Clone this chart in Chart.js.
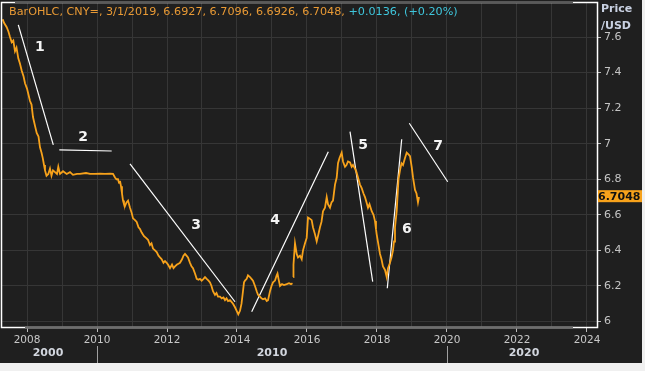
<!DOCTYPE html>
<html>
<head>
<meta charset="utf-8">
<script src="https://cdn.jsdelivr.net/npm/chart.js@4.4.1/dist/chart.umd.min.js"></script>
<style>
  html, body { margin: 0; padding: 0; background: #1f1f1f; }
  #wrap { width: 645px; height: 371px; }
</style>
</head>
<body>
<div id="wrap"><canvas id="chart" width="645" height="371"></canvas></div>
<script>
const priceYears = [
    2007.306, 2007.343, 2007.42, 2007.471, 2007.514, 2007.563, 2007.609, 2007.657, 2007.7, 2007.751,
    2007.8, 2007.849, 2007.9, 2007.943, 2008.0, 2008.086, 2008.129, 2008.171, 2008.229, 2008.277,
    2008.329, 2008.371, 2008.414, 2008.449, 2008.486, 2008.514, 2008.557, 2008.609, 2008.657, 2008.7,
    2008.743, 2008.8, 2008.857, 2008.894, 2008.929, 2008.943, 2009.029, 2009.134, 2009.229, 2009.314,
    2009.429, 2009.514, 2009.686, 2009.8, 2009.943, 2010.086, 2010.229, 2010.371, 2010.457, 2010.514,
    2010.557, 2010.6, 2010.629, 2010.657, 2010.686, 2010.714, 2010.743, 2010.771, 2010.8, 2010.843,
    2010.886, 2010.943, 2010.991, 2011.029, 2011.086, 2011.134, 2011.186, 2011.229, 2011.277, 2011.343,
    2011.4, 2011.457, 2011.514, 2011.557, 2011.6, 2011.657, 2011.706, 2011.757, 2011.8, 2011.849,
    2011.9, 2011.943, 2011.991, 2012.029, 2012.086, 2012.143, 2012.186, 2012.229, 2012.286, 2012.329,
    2012.371, 2012.429, 2012.471, 2012.514, 2012.557, 2012.6, 2012.657, 2012.7, 2012.743, 2012.8,
    2012.849, 2012.9, 2012.943, 2012.991, 2013.043, 2013.086, 2013.134, 2013.186, 2013.229, 2013.271,
    2013.314, 2013.371, 2013.414, 2013.457, 2013.514, 2013.563, 2013.614, 2013.657, 2013.7, 2013.743,
    2013.8, 2013.843, 2013.886, 2013.943, 2013.991, 2014.037, 2014.086, 2014.129, 2014.171, 2014.2,
    2014.229, 2014.277, 2014.314, 2014.371, 2014.414, 2014.457, 2014.514, 2014.563, 2014.6, 2014.657,
    2014.7, 2014.743, 2014.8, 2014.849, 2014.886, 2014.943, 2014.986, 2015.029, 2015.086, 2015.134,
    2015.157, 2015.186, 2015.229, 2015.286, 2015.343, 2015.42, 2015.486, 2015.543, 2015.586, 2015.596,
    2015.606, 2015.614, 2015.657, 2015.706, 2015.743, 2015.8, 2015.849, 2015.886, 2015.943, 2015.991,
    2016.029, 2016.071, 2016.134, 2016.171, 2016.229, 2016.277, 2016.314, 2016.371, 2016.414, 2016.457,
    2016.514, 2016.563, 2016.6, 2016.657, 2016.7, 2016.743, 2016.8, 2016.849, 2016.886, 2016.929,
    2016.991, 2017.029, 2017.086, 2017.129, 2017.171, 2017.229, 2017.277, 2017.314, 2017.371, 2017.414,
    2017.457, 2017.514, 2017.563, 2017.614, 2017.657, 2017.7, 2017.743, 2017.786, 2017.849, 2017.9,
    2017.943, 2017.971, 2017.991, 2018.043, 2018.086, 2018.129, 2018.171, 2018.229, 2018.277, 2018.314,
    2018.371, 2018.414, 2018.457, 2018.486, 2018.514, 2018.563, 2018.614, 2018.657, 2018.7, 2018.743,
    2018.8, 2018.849, 2018.9, 2018.943, 2018.991, 2019.029, 2019.086, 2019.129, 2019.171, 2019.2
];
const priceValues = [
    7.70, 7.68, 7.655, 7.63, 7.60, 7.57, 7.58, 7.52, 7.54, 7.48,
    7.45, 7.41, 7.38, 7.34, 7.31, 7.24, 7.22, 7.15, 7.10, 7.06,
    7.04, 6.98, 6.95, 6.92, 6.88, 6.85, 6.82, 6.83, 6.86, 6.82,
    6.85, 6.84, 6.83, 6.87, 6.84, 6.83, 6.845, 6.83, 6.84, 6.825,
    6.83, 6.83, 6.835, 6.83, 6.83, 6.832, 6.83, 6.832, 6.83, 6.81,
    6.80, 6.80, 6.78, 6.79, 6.76, 6.72, 6.68, 6.66, 6.65, 6.67,
    6.68, 6.64, 6.61, 6.58, 6.57, 6.56, 6.53, 6.52, 6.50, 6.48,
    6.47, 6.46, 6.43, 6.44, 6.41, 6.40, 6.39, 6.37, 6.36, 6.35,
    6.33, 6.34, 6.33, 6.32, 6.30, 6.32, 6.30, 6.31, 6.32, 6.325,
    6.33, 6.35, 6.37, 6.38, 6.37, 6.36, 6.33, 6.31, 6.30, 6.27,
    6.24, 6.235, 6.24, 6.23, 6.24, 6.25, 6.24, 6.23, 6.22, 6.20,
    6.17, 6.15, 6.16, 6.14, 6.14, 6.13, 6.135, 6.12, 6.13, 6.115,
    6.12, 6.11, 6.10, 6.08, 6.06, 6.04, 6.06, 6.10, 6.17, 6.22,
    6.23, 6.24, 6.26, 6.25, 6.24, 6.23, 6.20, 6.17, 6.15, 6.14,
    6.13, 6.125, 6.13, 6.115, 6.12, 6.17, 6.20, 6.22, 6.23, 6.26,
    6.27, 6.24, 6.20, 6.21, 6.205, 6.21, 6.215, 6.21, 6.215, null,
    6.25, 6.32, 6.44, 6.38, 6.36, 6.37, 6.35, 6.40, 6.44, 6.47,
    6.585, 6.58, 6.57, 6.53, 6.49, 6.45, 6.48, 6.53, 6.56, 6.62,
    6.64, 6.70, 6.66, 6.64, 6.67, 6.68, 6.77, 6.81, 6.89, 6.92,
    6.95, 6.90, 6.87, 6.88, 6.90, 6.895, 6.87, 6.88, 6.86, 6.84,
    6.81, 6.77, 6.75, 6.72, 6.70, 6.67, 6.64, 6.66, 6.62, 6.60,
    6.565, 6.52, 6.49, 6.43, 6.38, 6.35, 6.31, 6.29, 6.25, 6.30,
    6.33, 6.36, 6.40, 6.45, 6.53, 6.62, 6.80, 6.85, 6.89, 6.88,
    6.92, 6.95, 6.94, 6.93, 6.87, 6.81, 6.74, 6.72, 6.67, 6.70
];

// hand drawn wave lines and their numbers
const trendStartYears = [2007.751, 2008.923, 2010.943, 2014.42, 2017.229, 2018.294, 2018.923];
const trendStartValues = [7.668, 6.965, 6.886, 6.055, 7.068, 6.187, 7.115];
const trendEndYears = [2008.751, 2010.42, 2013.943, 2016.609, 2017.877, 2018.706, 2020.02];
const trendEndValues = [6.993, 6.959, 6.111, 6.955, 6.224, 7.025, 6.786];
const waveLabels = ['1', '2', '3', '4', '5', '6', '7'];
const waveLabelYears = [2008.371, 2009.6, 2012.829, 2015.086, 2017.6, 2018.857, 2019.743];
const waveLabelValues = [7.544, 7.038, 6.543, 6.571, 6.993, 6.52, 6.987];

const yearTicks = [2008, 2009, 2010, 2011, 2012, 2013, 2014, 2015, 2016, 2017, 2018, 2019, 2020, 2021, 2022, 2023, 2024];
const priceTicks = [6, 6.2, 6.4, 6.6, 6.8, 7, 7.2, 7.4, 7.6];
const decadeLabels = ['2000', '2010', '2020'];
const decadeLabelYears = [2008.6, 2015.0, 2022.2];
const decadeBreaks = [2010, 2020];

const headerMain = 'BarOHLC, CNY=, 3/1/2019, 6.6927, 6.7096, 6.6926, 6.7048, ';
const headerChange = '+0.0136, (+0.20%)';
const lastClose = 6.7048;

const FONT = "'DejaVu Sans', Verdana, sans-serif";

const chromePlugin = {
    id: 'chrome',
    beforeDraw(chart) {
        const { ctx, width, height } = chart;
        ctx.save();
        ctx.fillStyle = '#1f1f1f';
        ctx.fillRect(0, 0, width, height);
        ctx.fillStyle = '#f0f0f0';
        ctx.fillRect(0, 363, width, height - 363);
        ctx.fillRect(642, 0, width - 642, height);
        ctx.restore();
    },
    afterDraw(chart) {
        const { ctx, chartArea: a } = chart;
        const xs = chart.scales.x;
        const ys = chart.scales.y;
        ctx.save();

        // frame round the plot
        ctx.strokeStyle = '#ffffff';
        ctx.lineWidth = 1.5;
        ctx.strokeRect(a.left + 0.5, a.top + 0.5, a.right - a.left, a.bottom - a.top);
        ctx.strokeStyle = '#5a5a5a';
        ctx.lineWidth = 1.5;
        ctx.beginPath();
        ctx.moveTo(15, a.top + 0.5);
        ctx.lineTo(573, a.top + 0.5);
        ctx.stroke();
        ctx.strokeStyle = '#6e6e6e';
        ctx.lineWidth = 2.5;
        ctx.beginPath();
        ctx.moveTo(25, a.bottom + 0.5);
        ctx.lineTo(573, a.bottom + 0.5);
        ctx.stroke();

        // wave numbers
        ctx.fillStyle = '#f4f4f4';
        ctx.font = 'bold 14px ' + FONT;
        ctx.textAlign = 'center';
        ctx.textBaseline = 'middle';
        waveLabels.forEach((t, i) => {
            ctx.fillText(t, xs.getPixelForValue(waveLabelYears[i]), ys.getPixelForValue(waveLabelValues[i]));
        });

        // header
        ctx.textAlign = 'left';
        ctx.font = '11.2px ' + FONT;
        ctx.fillStyle = '#e99a35';
        ctx.fillText(headerMain, 9, 12);
        const w = ctx.measureText(headerMain).width;
        ctx.fillStyle = '#3fc6dc';
        ctx.fillText(headerChange, 9 + w, 12);

        // axis title
        ctx.font = 'bold 11px ' + FONT;
        ctx.fillStyle = '#c9d1e2';
        ctx.fillText('Price', 601, 9);
        ctx.fillText('/USD', 601, 26);

        // last price tag
        const ty = ys.getPixelForValue(lastClose);
        ctx.fillStyle = '#f7a21b';
        ctx.fillRect(598, ty - 6, 44, 12);
        ctx.fillStyle = '#111111';
        ctx.font = 'bold 11px ' + FONT;
        ctx.fillText(lastClose.toFixed(4), 598, ty + 0.5);

        // decade separators
        ctx.strokeStyle = '#a0a0a0';
        ctx.lineWidth = 1;
        decadeBreaks.forEach((d) => {
            const x = Math.round(xs.getPixelForValue(d)) + 0.5;
            ctx.beginPath();
            ctx.moveTo(x, 346);
            ctx.lineTo(x, 363);
            ctx.stroke();
        });
        ctx.restore();
    }
};

const datasets = [{
    data: priceYears.map((x, i) => ({ x: x, y: priceValues[i] })),
    borderColor: '#f7a21b',
    borderWidth: 1.8,
    pointRadius: 0,
    spanGaps: false,
    tension: 0
}];
trendStartYears.forEach((x, i) => {
    datasets.push({
        data: [{ x: x, y: trendStartValues[i] }, { x: trendEndYears[i], y: trendEndValues[i] }],
        borderColor: '#ffffff',
        borderWidth: 1.2,
        pointRadius: 0
    });
});

new Chart(document.getElementById('chart'), {
    type: 'line',
    data: { datasets: datasets },
    plugins: [chromePlugin],
    options: {
        responsive: false,
        animation: false,
        devicePixelRatio: 1,
        layout: { padding: { left: 1, top: 2, right: 0, bottom: 8 } },
        plugins: { legend: { display: false }, tooltip: { enabled: false } },
        scales: {
            x: {
                type: 'linear',
                position: 'bottom',
                weight: 0,
                min: 2007.257,
                max: 2024.286,
                afterBuildTicks: (s) => { s.ticks = yearTicks.map((v) => ({ value: v })); },
                afterFit: (s) => { s.height = 19; s.paddingLeft = 0; s.paddingRight = 0; },
                ticks: {
                    autoSkip: false,
                    maxRotation: 0,
                    padding: 2,
                    color: '#c8c8c8',
                    font: { family: FONT, size: 10.5 },
                    callback: (v) => (v % 2 === 0 ? String(v) : '')
                },
                grid: {
                    color: '#363636',
                    tickLength: 5,
                    tickColor: (c) => (c.tick && c.tick.value % 2 === 0 ? '#bbbbbb' : 'rgba(0,0,0,0)')
                },
                border: { display: false }
            },
            x2: {
                type: 'linear',
                position: 'bottom',
                weight: 1,
                min: 2007.257,
                max: 2024.286,
                afterBuildTicks: (s) => { s.ticks = decadeLabelYears.map((v) => ({ value: v })); },
                afterFit: (s) => { s.height = 17; s.paddingLeft = 0; s.paddingRight = 0; },
                ticks: {
                    autoSkip: false,
                    maxRotation: 0,
                    padding: 1,
                    color: '#d2d6de',
                    font: { family: FONT, size: 11, weight: 'bold' },
                    callback: (v, i) => decadeLabels[i]
                },
                grid: { display: false, drawTicks: false },
                border: { display: false }
            },
            y: {
                type: 'linear',
                position: 'right',
                min: 5.969,
                max: 7.797,
                afterBuildTicks: (s) => { s.ticks = priceTicks.map((v) => ({ value: v })); },
                afterFit: (s) => { s.width = 48; s.paddingTop = 0; s.paddingBottom = 0; },
                ticks: {
                    padding: 3,
                    color: '#c4c4c4',
                    font: { family: FONT, size: 11 },
                    callback: (v) => String(+v.toFixed(1))
                },
                grid: { color: '#363636', tickColor: '#bbbbbb', tickLength: 4 },
                border: { display: false }
            }
        }
    }
});
</script>
</body>
</html>
